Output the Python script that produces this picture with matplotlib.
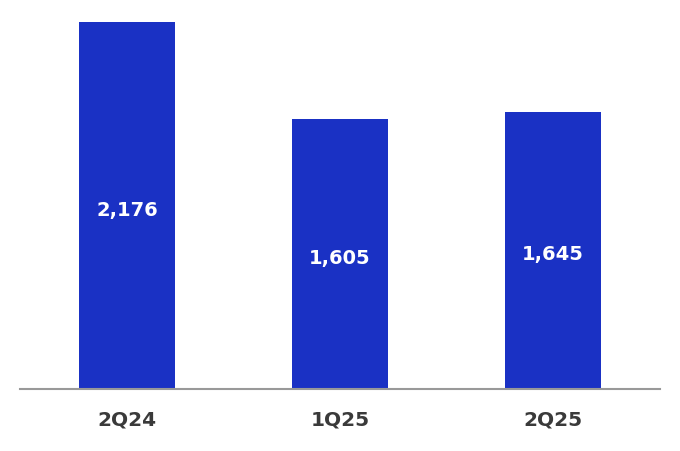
import matplotlib
matplotlib.use("Agg")
import matplotlib.pyplot as plt

categories = ["2Q24", "1Q25", "2Q25"]
values = [2176, 1605, 1645]
labels = ["2,176", "1,605", "1,645"]

plt.rcParams['font.family'] = ['DejaVu Sans']

fig = plt.figure(figsize=(6.8, 4.52), dpi=100)
ax = fig.add_axes([20/680, 1 - 390/452, 640/680, 390/452])
x = list(range(len(categories)))
ax.bar(x, values, width=0.45, color="#1a31c4")
ax.set_xlim(-0.502, 2.502)
ax.set_ylim(0, 2315)
for xi, v, lab in zip(x, values, labels):
    ax.text(xi, v / 2 - 20, lab, ha="center", va="center", color="white",
            fontsize=14, fontweight="bold")
ax.set_xticks(x)
ax.set_xticklabels(categories, fontsize=14.5, fontweight="bold", color="#3a3a3a")
ax.tick_params(axis="x", length=0, pad=15)
ax.set_yticks([])
for s in ["top", "right", "left"]:
    ax.spines[s].set_visible(False)
ax.spines["bottom"].set_color("#999999")
ax.spines["bottom"].set_linewidth(1.5)
fig.savefig("out.png", dpi=100)
